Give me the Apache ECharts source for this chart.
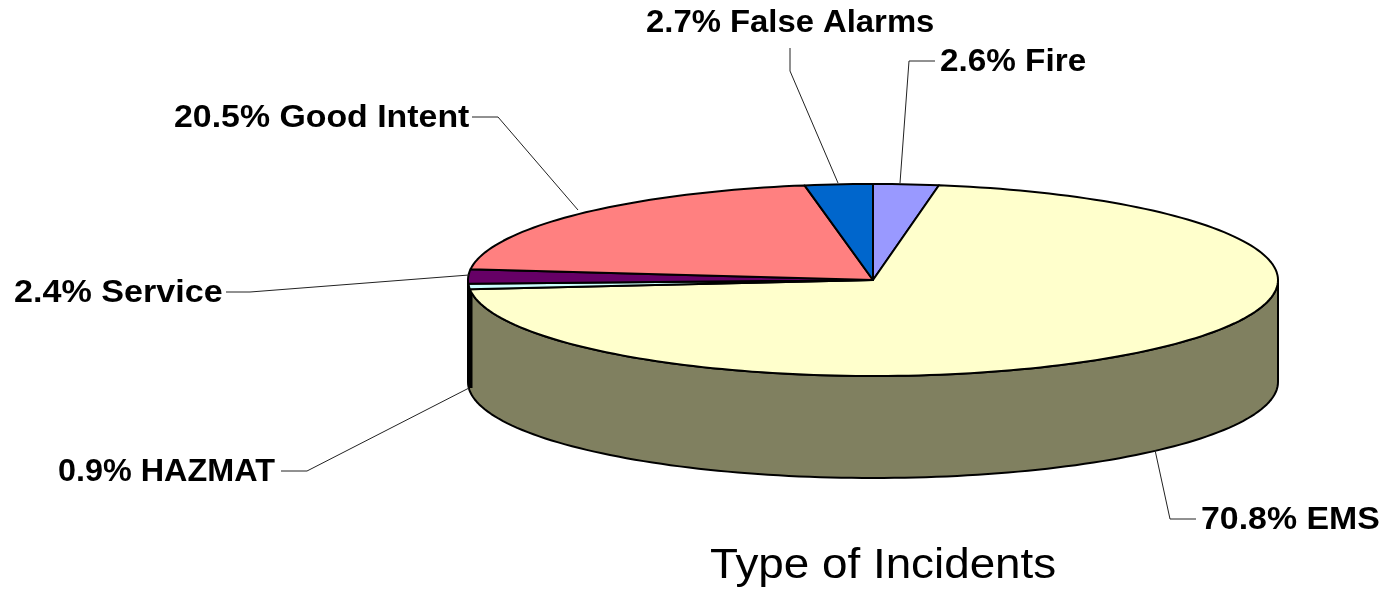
<!DOCTYPE html>
<html><head><meta charset="utf-8">
<style>html,body{margin:0;padding:0;background:#fff}#c{width:1380px;height:589px}</style>
<script src="https://cdn.jsdelivr.net/npm/echarts@6/dist/echarts.min.js"></script>
</head><body><div id="c"></div>
<script>
// Clockwise from 12 o'clock
const categories = ['Fire','EMS','HAZMAT','Service','Good Intent','False Alarms'];
const values = [2.6,70.8,0.9,2.4,20.5,2.7];
const colors = ['#9999FF','#FFFFCC','#CCFFFF','#660066','#FF8080','#0066CC'];
const titleText = 'Type of Incidents';

const PIE = {cx:873, cy:280, rx:405, ry:96, depth:102, side:'#808060'};
const LABELS = {
  'Fire':{x:940,y:62,sx:1.04,line:[[935,61],[909,61],[900,183]]},
  'EMS':{x:1201,y:520,sx:1.058,line:[[1155,450],[1170,519],[1196,519]]},
  'HAZMAT':{x:58,y:472,sx:1.011,line:[[281,471],[307,471],[469,388]]},
  'Service':{x:14,y:293,sx:1.066,line:[[226,292],[250,292],[469,275]]},
  'Good Intent':{x:174,y:118,sx:1.058,line:[[472,117],[498,117],[578,210]]},
  'False Alarms':{x:646,y:23,sx:1.026,line:[[790,48],[790,71],[838,183]]}
};
const total = values.reduce((a,b)=>a+b,0);
const ell = (deg,dy=0)=>{const r=deg*Math.PI/180;return [PIE.cx+PIE.rx*Math.sin(r),PIE.cy-PIE.ry*Math.cos(r)+dy];};
const arc = (a,b,dy=0)=>{const n=Math.max(2,Math.ceil(Math.abs(b-a)/1.5));const p=[];for(let i=0;i<=n;i++)p.push(ell(a+(b-a)*i/n,dy));return p;};

function renderSide(){
  const pts = arc(90,270).concat(arc(270,90,PIE.depth));
  return {type:'group',children:[
    {type:'polygon',shape:{points:pts},style:{fill:PIE.side,stroke:'#000',lineWidth:2,lineJoin:'round'}},
    {type:'line',shape:{x1:470.5,y1:ell(270)[1]+6,x2:470.5,y2:ell(270)[1]+PIE.depth+6},style:{stroke:'#000',lineWidth:4}}
  ]};
}
function renderSlice(params,api){
  const i=params.dataIndex, v=api.value(0);
  let start=0; for(let k=0;k<i;k++) start+=values[k];
  const a=start/total*360, b=(start+v)/total*360;
  const pts=[[PIE.cx,PIE.cy]].concat(arc(a,b));
  return {type:'polygon',shape:{points:pts},style:{fill:colors[i],stroke:'#000',lineWidth:2,lineJoin:'round'}};
}
function renderLabel(params,api){
  const i=params.dataIndex, name=categories[i], L=LABELS[name];
  return {type:'group',children:[
    {type:'polyline',shape:{points:L.line},style:{fill:null,stroke:'#222',lineWidth:1}},
    {type:'text',x:L.x,y:L.y,scaleX:L.sx,style:{text:api.value(0).toFixed(1)+'% '+name,fill:'#000',
      font:'bold 32px "Liberation Sans", Arial, sans-serif',textAlign:'left',textVerticalAlign:'middle'}}
  ]};
}
const chart = echarts.init(document.getElementById('c'),null,{renderer:'canvas'});
chart.setOption({
  animation:false,
  backgroundColor:'#fff',
  graphic:[{type:'text',x:710,y:566,scaleX:1.065,z:5,silent:true,style:{text:titleText,fill:'#000',
    font:'43px "Liberation Sans", Arial, sans-serif',textAlign:'left',textVerticalAlign:'middle'}}],
  series:[
    {type:'custom',coordinateSystem:'none',silent:true,clip:false,data:[[0]],renderItem:renderSide,z:1},
    {type:'custom',coordinateSystem:'none',silent:true,clip:false,data:values.map(v=>[v]),renderItem:renderSlice,z:2},
    {type:'custom',coordinateSystem:'none',silent:true,clip:false,data:values.map(v=>[v]),renderItem:renderLabel,z:3}
  ]
});
</script></body></html>
